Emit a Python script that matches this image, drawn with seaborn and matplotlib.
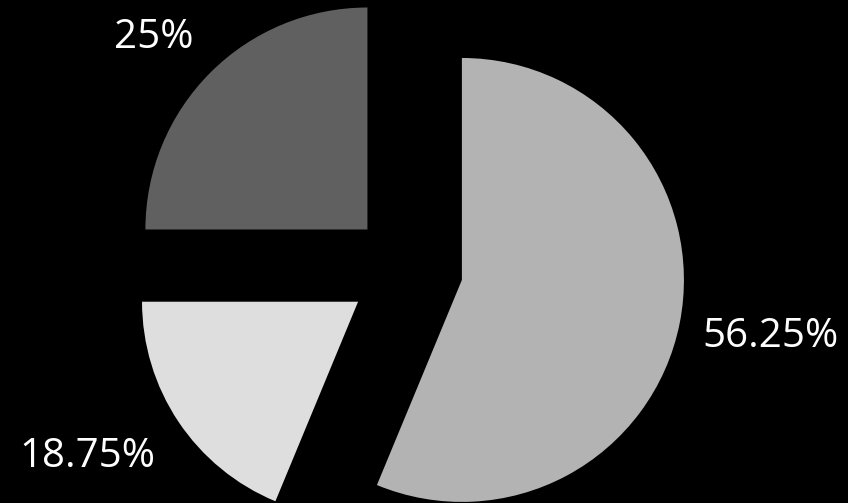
import matplotlib
matplotlib.use("Agg")
import matplotlib.pyplot as plt
import seaborn as sns

# Data
categories = ["A", "B", "C"]
values = [56.25, 18.75, 25.0]
colors = ["#b3b3b3", "#dedede", "#606060"]

sns.set_theme(style="dark")
plt.rcParams["font.family"] = ["Open Sans", "DejaVu Sans"]

fig = plt.figure(figsize=(8.48, 5.03), dpi=100, facecolor="black")
ax = fig.add_axes([0, 0, 1, 1])
ax.set_facecolor("black")

wedges, texts, autotexts = ax.pie(
    values,
    colors=colors,
    explode=[0.252, 0.265, 0.252],
    startangle=90,
    counterclock=False,
    autopct=lambda p: f"{round(p, 2):g}%",
    pctdistance=1.4,
    wedgeprops=dict(linewidth=0),
    textprops=dict(color="white", fontsize=29),
)
wedges[1].set_radius(0.973)

# label placement (data units, radius = 1)
label_pos = [(1.635, -0.351), (-1.441, -0.892), (-1.140, 0.995)]
for t, (x, y) in zip(autotexts, label_pos):
    t.set_position((x, y))
    t.set_ha("center")
    t.set_va("baseline")

ax.set_aspect("auto")
ax.set_xlim(-1.833, 1.986)
ax.set_ylim(-1.054, 1.212)
ax.axis("off")

fig.savefig("out.png", dpi=100, facecolor="black")
